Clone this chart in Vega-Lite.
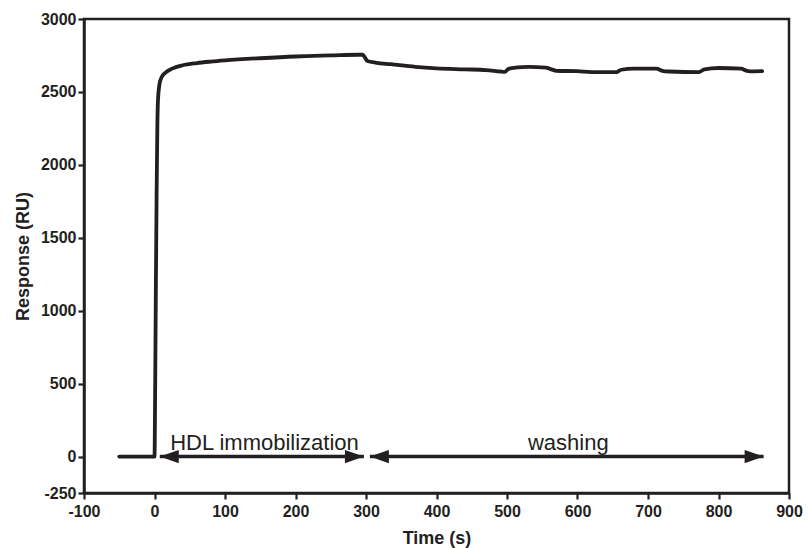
{
  "$schema": "https://vega.github.io/schema/vega-lite/v6.json",
  "autosize": {"type": "none"},
  "padding": {"left": 84, "top": 19, "right": 20, "bottom": 55},
  "width": 705,
  "height": 474,
  "background": "white",
  "config": {
    "view": {"stroke": "#231f20", "strokeWidth": 2.5},
    "font": "Liberation Sans",
    "axis": {
      "grid": false,
      "labelFlush": false,
      "labelOverlap": false,
      "domainColor": "#231f20",
      "domainWidth": 2.5,
      "tickColor": "#231f20",
      "tickWidth": 2.2,
      "tickSize": 6,
      "labelFont": "Liberation Sans",
      "labelFontSize": 16,
      "labelFontWeight": "bold",
      "labelColor": "#231f20",
      "labelExpr": "'' + datum.value",
      "titleFont": "Liberation Sans",
      "titleFontSize": 18,
      "titleFontWeight": "bold",
      "titleColor": "#231f20"
    }
  },
  "datasets": {
    "curve": [
      {"t": -50, "r": 0}, {"t": 0, "r": 0}, {"t": 1, "r": 500}, {"t": 2, "r": 1200},
      {"t": 3, "r": 1800}, {"t": 4, "r": 2250}, {"t": 5, "r": 2450}, {"t": 7, "r": 2550},
      {"t": 10, "r": 2600}, {"t": 15, "r": 2630}, {"t": 25, "r": 2660}, {"t": 40, "r": 2683},
      {"t": 60, "r": 2698}, {"t": 80, "r": 2708}, {"t": 100, "r": 2716}, {"t": 150, "r": 2731},
      {"t": 200, "r": 2743}, {"t": 250, "r": 2750}, {"t": 290, "r": 2755}, {"t": 295, "r": 2755},
      {"t": 298, "r": 2740}, {"t": 302, "r": 2712}, {"t": 315, "r": 2700}, {"t": 335, "r": 2690},
      {"t": 370, "r": 2672}, {"t": 400, "r": 2662}, {"t": 440, "r": 2655}, {"t": 470, "r": 2650},
      {"t": 490, "r": 2640}, {"t": 497, "r": 2637}, {"t": 502, "r": 2658}, {"t": 515, "r": 2668},
      {"t": 530, "r": 2672}, {"t": 555, "r": 2667}, {"t": 563, "r": 2655}, {"t": 570, "r": 2645},
      {"t": 600, "r": 2642}, {"t": 620, "r": 2636}, {"t": 655, "r": 2636}, {"t": 662, "r": 2652},
      {"t": 680, "r": 2660}, {"t": 712, "r": 2660}, {"t": 720, "r": 2645}, {"t": 730, "r": 2640},
      {"t": 772, "r": 2636}, {"t": 780, "r": 2654}, {"t": 800, "r": 2664}, {"t": 832, "r": 2660},
      {"t": 840, "r": 2645}, {"t": 850, "r": 2641}, {"t": 862, "r": 2642}
    ],
    "arrows": [
      {"label": "HDL immobilization", "start": 7.5, "end": 297, "mid": 156, "y": 0, "ty": 46},
      {"label": "washing", "start": 305.5, "end": 864, "mid": 587, "y": 0, "ty": 48}
    ],
    "heads": [
      {"t": 7.5, "y": 0, "dir": "left"},
      {"t": 297, "y": 0, "dir": "right"},
      {"t": 305.5, "y": 0, "dir": "left"},
      {"t": 864, "y": 0, "dir": "right"}
    ]
  },
  "layer": [
    {
      "data": {"name": "curve"},
      "mark": {"type": "line", "color": "#231f20", "strokeWidth": 3.8, "strokeJoin": "round", "strokeCap": "round", "interpolate": "monotone"},
      "encoding": {
        "x": {
          "field": "t", "type": "quantitative",
          "scale": {"domain": [-100, 900], "nice": false, "zero": false},
          "axis": {"values": [-100, 0, 100, 200, 300, 400, 500, 600, 700, 800, 900], "title": "Time (s)", "labelPadding": 4, "titleY": 50, "titleBaseline": "alphabetic"}
        },
        "y": {
          "field": "r", "type": "quantitative",
          "scale": {"domain": [-250, 3000], "nice": false, "zero": false},
          "axis": {"values": [-250, 0, 500, 1000, 1500, 2000, 2500, 3000], "title": "Response (RU)", "labelPadding": 2, "titleX": -56, "titleBaseline": "alphabetic"}
        }
      }
    },
    {
      "data": {"name": "arrows"},
      "mark": {"type": "rule", "color": "#231f20", "strokeWidth": 3.5},
      "encoding": {
        "x": {"field": "start", "type": "quantitative"},
        "x2": {"field": "end"},
        "y": {"field": "y", "type": "quantitative"}
      }
    },
    {
      "data": {"name": "heads"},
      "mark": {"type": "point", "filled": true, "color": "#231f20", "size": 360, "opacity": 1, "strokeWidth": 0},
      "encoding": {
        "x": {"field": "t", "type": "quantitative"},
        "y": {"field": "y", "type": "quantitative"},
        "shape": {
          "field": "dir", "type": "nominal",
          "scale": {"domain": ["left", "right"], "range": ["M 2 -0.7 L 0 0 L 2 0.7 Z", "M -2 -0.7 L 0 0 L -2 0.7 Z"]},
          "legend": null
        }
      }
    },
    {
      "data": {"name": "arrows"},
      "mark": {"type": "text", "color": "#231f20", "font": "Liberation Sans", "fontSize": 22, "align": "center", "baseline": "alphabetic"},
      "encoding": {
        "x": {"field": "mid", "type": "quantitative"},
        "y": {"field": "ty", "type": "quantitative"},
        "text": {"field": "label"}
      }
    }
  ]
}
